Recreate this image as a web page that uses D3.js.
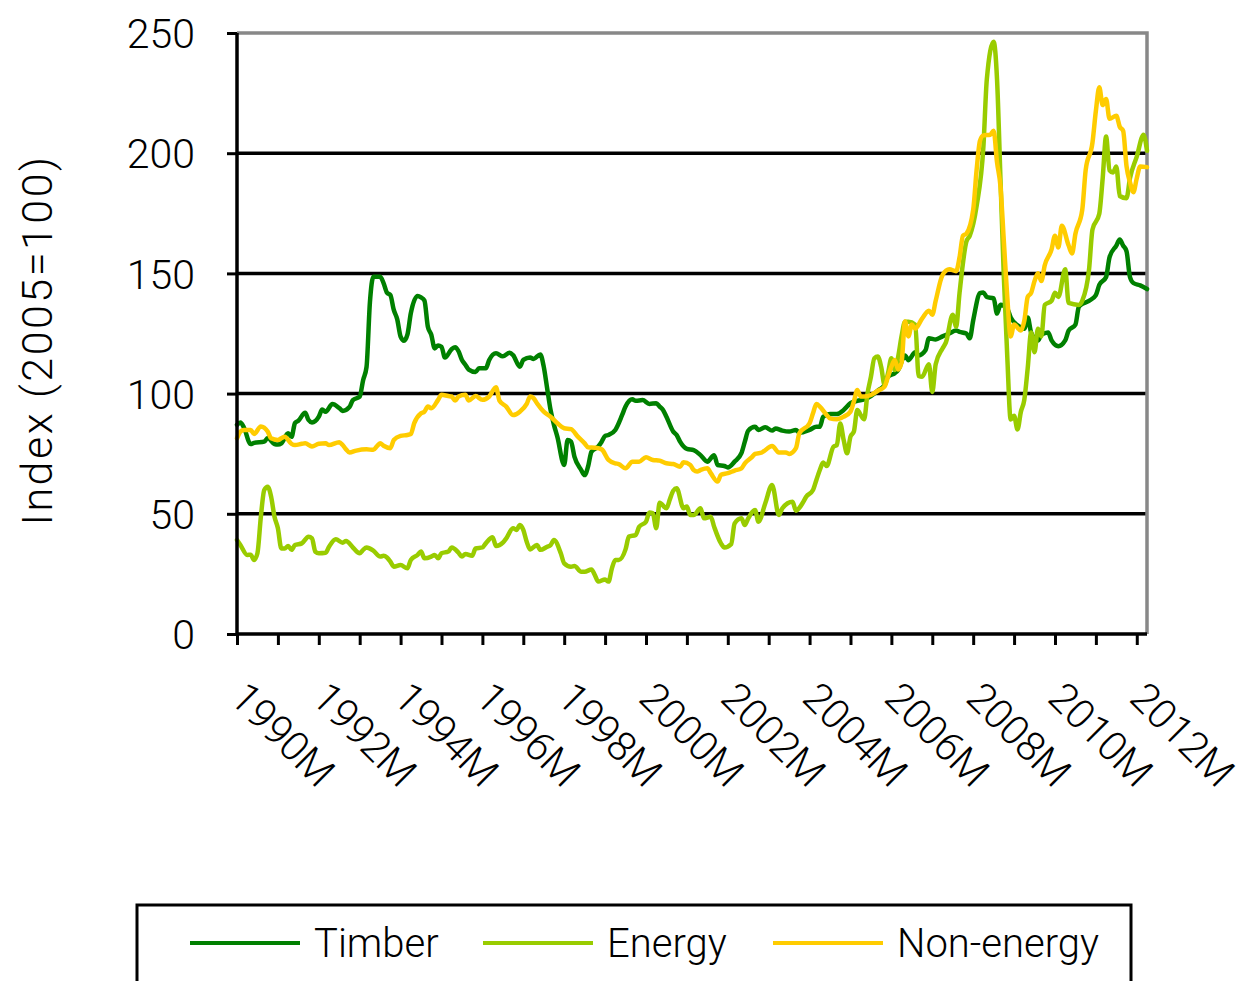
<!DOCTYPE html>
<html>
<head>
<meta charset="utf-8">
<script src="https://cdn.jsdelivr.net/npm/d3@7"></script>
<style>
  body { margin: 0; background: #fff; }
  text { font-family: Roboto, "Liberation Sans", sans-serif; font-weight: 300; fill: #000; }
</style>
</head>
<body>
<div id="chart"></div>
<script>
// Data: [period, index value] (2005=100)
var timber = [
  ["1990-01", 87], ["1990-02", 88], ["1990-03", 86], ["1990-05", 79], ["1990-06", 79.5], ["1990-09", 80], ["1990-10", 81.5], ["1990-12", 79],
  ["1991-01", 78.8], ["1991-02", 79.3], ["1991-04", 83.5], ["1991-05", 82], ["1991-06", 87.7], ["1991-07", 88.7], ["1991-09", 92], ["1991-10", 89], ["1991-11", 88],
  ["1992-01", 90.4], ["1992-02", 93.4], ["1992-03", 92.4], ["1992-05", 95.7], ["1992-07", 94], ["1992-08", 92.8], ["1992-10", 94.4], ["1992-11", 97.3],
  ["1993-01", 98.7], ["1993-02", 105.6], ["1993-03", 111], ["1993-04", 138], ["1993-05", 148.6], ["1993-07", 148.6], ["1993-08", 146], ["1993-09", 142], ["1993-10", 141], ["1993-11", 134.8], ["1993-12", 131],
  ["1994-01", 123.7], ["1994-02", 122], ["1994-03", 124.5], ["1994-04", 133.4], ["1994-06", 140.6], ["1994-07", 140], ["1994-08", 138.7], ["1994-09", 127.8], ["1994-10", 124.5], ["1994-11", 118.8], ["1994-12", 120],
  ["1995-01", 119.5], ["1995-02", 115], ["1995-04", 118.5], ["1995-05", 119.3], ["1995-06", 117.6], ["1995-07", 114], ["1995-08", 112], ["1995-09", 110], ["1995-11", 109], ["1995-12", 110.5],
  ["1996-02", 110.5], ["1996-03", 114], ["1996-05", 116.8], ["1996-07", 115.5], ["1996-09", 117], ["1996-10", 116], ["1996-12", 111.2],
  ["1997-01", 114], ["1997-03", 115], ["1997-04", 114.4], ["1997-06", 116.3], ["1997-07", 111.2], ["1997-08", 102.2], ["1997-09", 93.2], ["1997-10", 87], ["1997-11", 82],
  ["1998-01", 70.3], ["1998-02", 80.7], ["1998-03", 80], ["1998-04", 73.8], ["1998-06", 68.2], ["1998-07", 66.1], ["1998-08", 69.6], ["1998-09", 75.8], ["1998-11", 78], ["1998-12", 80],
  ["1999-01", 82.4], ["1999-02", 82.8], ["1999-04", 84.9], ["1999-06", 91.1], ["1999-07", 94.6], ["1999-09", 97.6], ["1999-10", 97], ["1999-12", 97.3],
  ["2000-02", 95.7], ["2000-04", 96], ["2000-05", 94.6], ["2000-06", 93.2], ["2000-07", 90.4], ["2000-09", 84.2], ["2000-10", 82.8], ["2000-11", 80],
  ["2001-01", 77], ["2001-03", 76.5], ["2001-05", 74.4], ["2001-07", 71.7], ["2001-09", 74.4], ["2001-10", 70.3], ["2001-12", 69.9],
  ["2002-01", 69.3], ["2002-03", 71.7], ["2002-05", 75.2], ["2002-06", 80], ["2002-07", 84.6], ["2002-09", 86.2], ["2002-10", 84.9], ["2002-12", 86],
  ["2003-02", 84.6], ["2003-03", 85.5], ["2003-05", 84.6], ["2003-07", 84.2], ["2003-09", 84.9], ["2003-10", 83.7],
  ["2004-01", 84.9], ["2004-03", 86.2], ["2004-04", 86.2], ["2004-05", 90.4], ["2004-07", 91.5], ["2004-09", 91.5], ["2004-11", 93.2],
  ["2005-01", 96], ["2005-03", 97], ["2005-05", 97.6], ["2005-07", 99], ["2005-09", 101.2], ["2005-11", 103.6], ["2005-12", 107],
  ["2006-02", 108.5], ["2006-03", 109.9], ["2006-05", 115.9], ["2006-06", 113.9], ["2006-08", 117.2], ["2006-09", 115.9], ["2006-11", 118], ["2006-12", 123],
  ["2007-02", 122.5], ["2007-04", 123.8], ["2007-06", 125], ["2007-08", 126.2], ["2007-09", 125.7], ["2007-11", 125], ["2007-12", 123],
  ["2008-01", 130.4], ["2008-03", 141.8], ["2008-04", 142.1], ["2008-05", 140.2], ["2008-07", 139.6], ["2008-08", 133.3], ["2008-09", 137], ["2008-11", 135.3], ["2008-12", 131.7],
  ["2009-02", 128.4], ["2009-04", 127], ["2009-05", 131.7], ["2009-06", 125.4], ["2009-08", 122.1], ["2009-09", 124.5], ["2009-11", 125.4], ["2009-12", 122.1],
  ["2010-02", 119.7], ["2010-04", 122.1], ["2010-05", 126.2], ["2010-07", 128.7], ["2010-08", 136.1], ["2010-09", 137.3], ["2010-11", 138.6],
  ["2011-01", 141], ["2011-02", 145.2], ["2011-04", 148.5], ["2011-05", 156.7], ["2011-07", 161.6], ["2011-08", 164.1], ["2011-09", 161.6], ["2011-10", 159.2], ["2011-11", 148.5], ["2011-12", 146],
  ["2012-02", 145], ["2012-04", 143.5]
];

var energy = [
  ["1990-01", 39.1], ["1990-02", 37], ["1990-04", 32.9], ["1990-05", 33], ["1990-06", 30.8], ["1990-07", 33.6], ["1990-08", 48.8], ["1990-09", 59.9], ["1990-10", 61.3], ["1990-11", 57.2], ["1990-12", 48.8],
  ["1991-01", 44], ["1991-02", 35.6], ["1991-03", 35.6], ["1991-04", 36.6], ["1991-05", 35], ["1991-06", 37], ["1991-08", 37.7], ["1991-10", 40.5], ["1991-11", 39.8], ["1991-12", 34.2],
  ["1992-01", 33.6], ["1992-03", 33.8], ["1992-04", 36.3], ["1992-06", 39.4], ["1992-08", 38], ["1992-09", 38.7], ["1992-11", 36],
  ["1993-01", 33.6], ["1993-02", 35], ["1993-03", 36], ["1993-05", 34.7], ["1993-07", 32.2], ["1993-08", 32.5], ["1993-09", 31.8], ["1993-10", 30.1], ["1993-11", 28],
  ["1994-01", 28.7], ["1994-03", 27.3], ["1994-04", 30.8], ["1994-06", 32.9], ["1994-07", 34.3], ["1994-08", 31.5], ["1994-10", 32.2], ["1994-11", 32.9], ["1994-12", 31.5],
  ["1995-01", 33.6], ["1995-03", 34.3], ["1995-04", 36], ["1995-06", 33.8], ["1995-07", 32.2], ["1995-08", 33.3], ["1995-10", 32.5], ["1995-11", 35.6],
  ["1996-01", 36], ["1996-02", 37.7], ["1996-04", 40.2], ["1996-05", 36.6], ["1996-07", 38], ["1996-08", 39.8], ["1996-10", 44], ["1996-11", 43.3], ["1996-12", 45.3],
  ["1997-01", 43.3], ["1997-02", 38.4], ["1997-03", 35.2], ["1997-05", 37], ["1997-06", 35], ["1997-08", 36.3], ["1997-09", 37], ["1997-10", 39.1], ["1997-12", 33.6],
  ["1998-01", 29.4], ["1998-03", 28], ["1998-04", 28.3], ["1998-06", 25.9], ["1998-07", 25.9], ["1998-09", 26.8], ["1998-10", 24.5], ["1998-11", 21.8],
  ["1999-01", 22.7], ["1999-02", 21.8], ["1999-03", 27.3], ["1999-04", 30.8], ["1999-05", 30.8], ["1999-07", 35.2], ["1999-08", 40.5], ["1999-10", 41.2], ["1999-11", 44.6],
  ["2000-01", 46.7], ["2000-02", 50.5], ["2000-03", 50.3], ["2000-04", 44], ["2000-05", 54.6], ["2000-07", 52.3], ["2000-08", 56], ["2000-09", 59.6], ["2000-10", 60.6], ["2000-12", 52.3],
  ["2001-01", 53], ["2001-02", 49.5], ["2001-03", 49.5], ["2001-05", 52.3], ["2001-06", 48.1], ["2001-08", 48.8], ["2001-09", 44.6], ["2001-11", 37.7], ["2001-12", 36],
  ["2002-02", 37.4], ["2002-03", 46], ["2002-05", 48.1], ["2002-06", 45.3], ["2002-07", 48.1], ["2002-09", 51.6], ["2002-10", 46.7], ["2002-12", 54.4],
  ["2003-02", 62], ["2003-04", 49.5], ["2003-05", 52.3], ["2003-08", 55], ["2003-09", 51.3], ["2003-11", 54.6], ["2003-12", 57.1],
  ["2004-02", 59.9], ["2004-03", 64.1], ["2004-04", 68.2], ["2004-05", 71.3], ["2004-06", 69.9], ["2004-08", 77.9], ["2004-09", 78.6], ["2004-10", 87.6], ["2004-11", 80.7], ["2004-12", 75.2],
  ["2005-01", 82.1], ["2005-02", 84.2], ["2005-03", 93.2], ["2005-04", 91.1], ["2005-05", 89.3], ["2005-06", 100.1], ["2005-07", 107], ["2005-08", 114.7], ["2005-09", 115.4], ["2005-10", 111.2], ["2005-11", 103.6], ["2005-12", 108.4],
  ["2006-01", 114.7], ["2006-02", 109.8], ["2006-03", 115.4], ["2006-04", 124], ["2006-05", 129.9], ["2006-06", 129.9], ["2006-08", 128.7], ["2006-09", 107.3], ["2006-10", 107], ["2006-12", 112.2],
  ["2007-01", 100.7], ["2007-02", 112.2], ["2007-04", 118.8], ["2007-05", 121.3], ["2007-07", 132.8], ["2007-08", 127.9], ["2007-09", 141.9], ["2007-11", 163.2], ["2007-12", 165.7],
  ["2008-02", 178], ["2008-04", 202.7], ["2008-05", 230.7], ["2008-07", 246.4], ["2008-08", 230.7], ["2008-09", 189.6], ["2008-10", 148.4], ["2008-11", 115.5], ["2008-12", 89.2],
  ["2009-01", 90.8], ["2009-02", 85.1], ["2009-03", 92.5], ["2009-04", 97.4], ["2009-05", 110.6], ["2009-06", 125.4], ["2009-07", 117.2], ["2009-08", 127], ["2009-09", 123.8], ["2009-10", 136.9], ["2009-12", 138.6],
  ["2010-01", 141.9], ["2010-02", 140.2], ["2010-04", 151.7], ["2010-05", 137.7], ["2010-08", 136.9], ["2010-09", 138.6], ["2010-11", 151.7], ["2010-12", 168.2],
  ["2011-02", 174.8], ["2011-03", 189.6], ["2011-04", 206.9], ["2011-05", 192.9], ["2011-06", 192], ["2011-07", 194.5], ["2011-08", 182.2], ["2011-10", 181.3], ["2011-11", 189.6],
  ["2012-01", 198.6], ["2012-03", 207.7], ["2012-04", 201]
];

var nonEnergy = [
  ["1990-01", 81.4], ["1990-02", 84.2], ["1990-03", 84.9], ["1990-05", 84.9], ["1990-06", 83.2], ["1990-08", 86.3], ["1990-10", 84.2], ["1990-11", 81.4],
  ["1991-01", 80.7], ["1991-02", 81.4], ["1991-03", 82.1], ["1991-05", 79.1], ["1991-06", 78.6], ["1991-08", 79.1], ["1991-09", 79.3], ["1991-11", 78],
  ["1992-01", 79.1], ["1992-03", 79.3], ["1992-04", 78.6], ["1992-07", 79.8], ["1992-08", 78.6], ["1992-09", 76.8], ["1992-10", 75.5], ["1992-12", 76.3],
  ["1993-03", 76.8], ["1993-05", 76.6], ["1993-06", 78], ["1993-07", 79.3], ["1993-08", 78.3], ["1993-10", 77.3], ["1993-11", 80.7],
  ["1994-01", 82.4], ["1994-03", 82.8], ["1994-04", 83.2], ["1994-05", 87.7], ["1994-07", 91.8], ["1994-08", 92.5], ["1994-09", 94.6], ["1994-10", 93.9], ["1994-12", 97.4],
  ["1995-01", 99.5], ["1995-03", 99], ["1995-04", 98.8], ["1995-05", 97.1], ["1995-06", 98.8], ["1995-08", 99.5], ["1995-09", 97.1], ["1995-11", 99],
  ["1996-01", 97.4], ["1996-03", 98.8], ["1996-05", 102.6], ["1996-06", 97.1], ["1996-08", 94.6], ["1996-10", 91.1], ["1996-12", 92.5],
  ["1997-02", 95.7], ["1997-03", 98.8], ["1997-04", 98.1], ["1997-05", 96], ["1997-07", 92.5], ["1997-09", 90.4], ["1997-11", 87.7],
  ["1998-01", 85.6], ["1998-03", 85.2], ["1998-05", 82.1], ["1998-07", 79.3], ["1998-08", 77.7], ["1998-10", 77.5], ["1998-12", 76.8],
  ["1999-02", 72.4], ["1999-04", 71], ["1999-05", 70.7], ["1999-07", 68.9], ["1999-09", 71.7], ["1999-11", 71.7],
  ["2000-01", 73.5], ["2000-03", 72.4], ["2000-05", 72.1], ["2000-07", 71], ["2000-09", 70.7], ["2000-11", 69.6], ["2000-12", 71.4],
  ["2001-02", 70.3], ["2001-03", 68.2], ["2001-04", 67.6], ["2001-05", 68.2], ["2001-07", 68.9], ["2001-08", 66.9], ["2001-10", 63.4], ["2001-11", 66.2],
  ["2002-01", 66.9], ["2002-03", 68], ["2002-05", 68.9], ["2002-06", 71], ["2002-08", 73.5], ["2002-09", 74.9], ["2002-11", 75.5],
  ["2003-02", 78.2], ["2003-04", 75.5], ["2003-06", 75.5], ["2003-07", 74.9], ["2003-09", 77.3], ["2003-10", 83.5],
  ["2004-01", 87.7], ["2004-02", 91.8], ["2004-03", 95.7], ["2004-04", 94.6], ["2004-06", 91.1], ["2004-07", 89.7], ["2004-09", 89.3], ["2004-11", 90.4],
  ["2005-01", 92.5], ["2005-02", 96.7], ["2005-03", 101.5], ["2005-04", 98.8], ["2005-05", 98.8], ["2005-07", 99.4], ["2005-09", 101.2], ["2005-11", 102.9], ["2005-12", 107],
  ["2006-01", 111.2], ["2006-02", 114], ["2006-03", 110], ["2006-04", 113], ["2006-05", 130], ["2006-06", 123.8], ["2006-07", 128.7], ["2006-08", 127.1], ["2006-10", 131.2], ["2006-12", 134.5],
  ["2007-01", 132.8], ["2007-02", 138.6], ["2007-04", 149.3], ["2007-06", 151.7], ["2007-08", 150.9], ["2007-09", 156.7], ["2007-10", 165.7], ["2007-11", 166.5],
  ["2008-01", 176.4], ["2008-02", 192.9], ["2008-03", 205.2], ["2008-04", 207.4], ["2008-06", 207.7], ["2008-07", 209.3], ["2008-08", 196.2], ["2008-09", 186.3], ["2008-10", 163.3], ["2008-11", 140.2], ["2008-12", 123.8],
  ["2009-01", 128.7], ["2009-03", 126.2], ["2009-04", 130.3], ["2009-05", 140.2], ["2009-06", 141.9], ["2009-07", 146.8], ["2009-08", 150.1], ["2009-09", 146.8], ["2009-10", 153.4], ["2009-12", 160],
  ["2010-01", 165.7], ["2010-02", 160.8], ["2010-03", 169.8], ["2010-05", 161.6], ["2010-06", 158.3], ["2010-07", 166.5], ["2010-09", 176.4], ["2010-10", 192.9], ["2010-12", 204.4],
  ["2011-01", 217.6], ["2011-02", 227.4], ["2011-03", 220], ["2011-04", 222.5], ["2011-05", 214.3], ["2011-07", 215.6], ["2011-08", 211], ["2011-09", 209.3], ["2011-10", 194.5], ["2011-11", 188], ["2011-12", 183.8],
  ["2012-01", 189.6], ["2012-02", 194.5], ["2012-04", 194.2]
];

var seriesNames = ["Timber", "Energy", "Non-energy"];
var seriesColors = ["#008000", "#99cc00", "#ffcc00"];
var yTicks = [0, 50, 100, 150, 200, 250];
var firstPeriod = "1990-01";
var lastPeriod = "2012-04";

// Set up SVG
var svgWidth = 1245;
var svgHeight = 981;

var margin = { top: 33, right: 98, bottom: 347, left: 237 };
var width = svgWidth - margin.left - margin.right;
var height = svgHeight - margin.top - margin.bottom;

var svg = d3.select("#chart").append("svg")
    .attr("width", svgWidth)
    .attr("height", svgHeight);

var chartGroup = svg.append("g")
    .attr("transform", `translate(${margin.left}, ${margin.top})`);

// months since Jan 1990, so every month gets the same width like the original axis
function monthIndex(p) {
    var parts = p.split("-");
    return (+parts[0] - 1990) * 12 + (+parts[1] - 1);
}

var xScale = d3.scaleLinear()
    .domain([monthIndex(firstPeriod), monthIndex(lastPeriod)])
    .range([0, width]);

var yScale = d3.scaleLinear()
    .domain([0, 250])
    .range([height, 0]);

// gridlines
chartGroup.selectAll(".grid")
    .data(yTicks.filter(d => d > 0 && d < 250))
    .enter()
    .append("line")
    .attr("x1", 0)
    .attr("x2", width)
    .attr("y1", d => yScale(d))
    .attr("y2", d => yScale(d))
    .attr("stroke", "#000")
    .attr("stroke-width", 3.5);

// plot border top / right in grey
chartGroup.append("path")
    .attr("d", `M0,${yScale(250)}H${width}V${height}`)
    .attr("fill", "none")
    .attr("stroke", "#888")
    .attr("stroke-width", 3.5);

// lines (smoothed like the original)
var line = d3.line()
    .curve(d3.curveMonotoneX)
    .x(d => xScale(monthIndex(d[0])))
    .y(d => yScale(d[1]));

var allSeries = [timber, energy, nonEnergy];

chartGroup.selectAll(".series")
    .data(allSeries)
    .enter()
    .append("path")
    .attr("class", "series")
    .attr("d", d => line(d))
    .attr("fill", "none")
    .attr("stroke", (d, i) => seriesColors[i])
    .attr("stroke-width", 4.5)
    .attr("stroke-linejoin", "round")
    .attr("stroke-linecap", "round");

// y axis
var leftAxis = d3.axisLeft(yScale)
    .tickValues(yTicks)
    .tickSize(10)
    .tickPadding(32);

var yAxis = chartGroup.append("g").call(leftAxis);
yAxis.select(".domain").attr("stroke-width", 3.5).attr("d", `M0,${yScale(250)}V${height}`);
yAxis.selectAll(".tick line").attr("stroke-width", 3);
yAxis.selectAll("text")
    .style("font-size", "41px")
    .attr("dy", "0.36em");

// x axis: tick every year, label every second year
var yearTicks = d3.range(0, monthIndex("2012-01") + 1, 12);

var bottomAxis = d3.axisBottom(xScale)
    .tickValues(yearTicks)
    .tickSize(11)
    .tickFormat("");

var xAxis = chartGroup.append("g")
    .attr("transform", `translate(0, ${height})`)
    .call(bottomAxis);
xAxis.select(".domain").attr("stroke-width", 3.5).attr("d", `M0,0H${width}`);
xAxis.selectAll(".tick line").attr("stroke-width", 3);

chartGroup.selectAll(".xlabel")
    .data(yearTicks.filter((d, i) => i % 2 === 0))
    .enter()
    .append("text")
    .attr("class", "xlabel")
    .attr("transform", d => `translate(${xScale(d) - 9}, ${height + 66}) rotate(45)`)
    .attr("text-anchor", "start")
    .style("font-size", "41px")
    .text(d => (1990 + d / 12) + "M");

// y axis title
svg.append("text")
    .attr("transform", "translate(37, 340) rotate(-90)")
    .attr("text-anchor", "middle")
    .attr("dominant-baseline", "central")
    .style("font-size", "43px")
    .style("letter-spacing", "2.5px")
    .text("Index (2005=100)");

// legend
var legend = svg.append("g");

legend.append("rect")
    .attr("x", 137)
    .attr("y", 905)
    .attr("width", 994)
    .attr("height", 90)
    .attr("fill", "#fff")
    .attr("stroke", "#000")
    .attr("stroke-width", 3);

var legendX = [190, 483, 773];

var legendItems = legend.selectAll(".item")
    .data(seriesNames)
    .enter()
    .append("g")
    .attr("transform", (d, i) => `translate(${legendX[i]}, 943)`);

legendItems.append("line")
    .attr("x1", 0)
    .attr("x2", 110)
    .attr("stroke", (d, i) => seriesColors[i])
    .attr("stroke-width", 4);

legendItems.append("text")
    .attr("x", 124)
    .attr("dy", "0.36em")
    .style("font-size", "40px")
    .text(d => d);
</script>
</body>
</html>
